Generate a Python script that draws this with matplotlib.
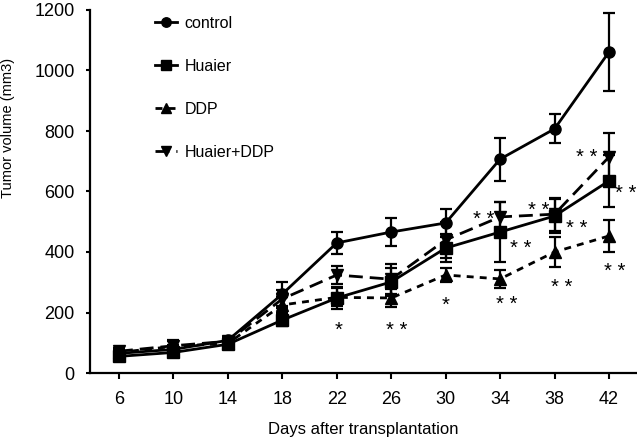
import matplotlib
matplotlib.use('Agg')
import matplotlib.pyplot as plt

plt.rcParams['font.family'] = 'Liberation Sans'

# tumor volume (mm3) by day after transplantation
days = [6, 10, 14, 18, 22, 26, 30, 34, 38, 42]

control = [65, 78, 108, 261, 430, 466, 496, 707, 807, 1061]
control_err = [10, 15, 10, 40, 37, 46, 46, 71, 48, 129]

huaier = [55, 68, 95, 175, 248, 301, 413, 466, 519, 635]
huaier_err = [10, 12, 12, 20, 35, 45, 45, 99, 55, 86]

ddp = [68, 88, 98, 225, 250, 248, 324, 311, 400, 453]
ddp_err = [12, 18, 12, 25, 30, 30, 23, 30, 50, 53]

combo = [72, 90, 105, 245, 324, 310, 440, 516, 525, 714]
combo_err = [12, 18, 12, 30, 30, 50, 60, 50, 55, 80]

# significance marks: (day, volume, text)
star_x = [22.1, 26.4, 30.0, 34.5, 35.5, 32.8, 36.8, 39.6, 38.5, 42.4, 43.2, 40.4]
star_y = [165, 165, 248, 248, 436, 532, 559, 499, 304, 360, 615, 734]
star_txt = ['*', '* *', '*', '* *', '* *', '* *', '* *', '* *', '* *', '* *', '* *', '* *']

fig = plt.figure(figsize=(6.37, 4.44), dpi=100)
ax = fig.add_axes([90/637, 71/444, 547/637, 363/444])

series = [
    ('control', control, control_err, 'o', '-'),
    ('Huaier', huaier, huaier_err, 's', '-'),
    ('DDP', ddp, ddp_err, '^', (0, (2.5, 2.2))),
    ('Huaier+DDP', combo, combo_err, 'v', (0, (5, 2.5))),
]

handles = []
for name, vals, err, mk, ls in series:
    ax.errorbar(days, vals, yerr=err, fmt='none', ecolor='black',
                elinewidth=1.6, capsize=4, capthick=1.6, zorder=2)
    ln, = ax.plot(days, vals, color='black', linestyle=ls, linewidth=2,
                  marker=mk, markersize=8, label=name, zorder=3)
    handles.append(ln)

for x, y, s in zip(star_x, star_y, star_txt):
    ax.annotate(s, (x, y), xytext=(0, -5), textcoords='offset points',
                ha='center', va='center', fontsize=14.5, annotation_clip=False)

ax.set_xlim(3.87, 44.06)
ax.set_ylim(0, 1200)
ax.set_xticks(days)
ax.set_yticks(range(0, 1201, 200))

for side in ['top', 'right']:
    ax.spines[side].set_visible(False)
for side in ['left', 'bottom']:
    ax.spines[side].set_linewidth(1.6)
ax.tick_params(axis='both', direction='out', width=1.5, labelsize=13)
ax.tick_params(axis='x', length=4, pad=9)
ax.tick_params(axis='y', length=3, pad=8)

ax.set_xlabel('Days after transplantation', fontsize=12)
ax.xaxis.set_label_coords(0.499, -0.135)
ax.set_ylabel('Tumor volume (mm3)', fontsize=10.5)
ax.yaxis.set_label_coords(-0.137, 0.675)

leg = ax.legend(handles=handles, loc='upper left', bbox_to_anchor=(147/637, 1 - 8/444),
                bbox_transform=fig.transFigure, frameon=False, fontsize=11.5,
                handlelength=1.4, handletextpad=0.45, labelspacing=1.75,
                borderpad=0, markerscale=0.85)

plt.savefig('out.png', dpi=100)
